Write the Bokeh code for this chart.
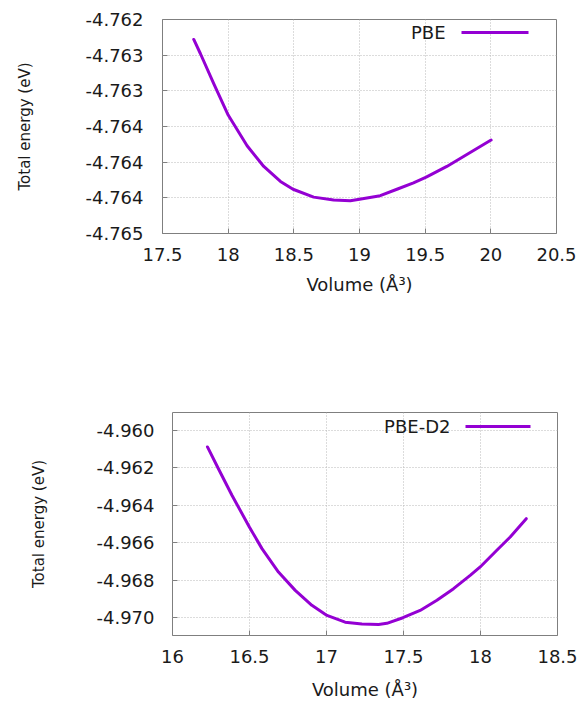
from bokeh.plotting import figure
from bokeh.layouts import column
from bokeh.models import (ColumnDataSource, FixedTicker, Label, Arrow, Range1d)
from bokeh.embed import file_html
from bokeh.resources import INLINE

# ---------------- data ----------------
pbe_volume = [17.738, 17.789, 17.890, 18.000, 18.144, 18.271, 18.398, 18.494,
              18.651, 18.803, 18.930, 19.000, 19.158, 19.285, 19.411, 19.508,
              19.665, 19.792, 20.002]
pbe_energy = [-4.76228, -4.76248, -4.76290, -4.76334, -4.76377, -4.76406,
              -4.76427, -4.76438, -4.76449, -4.76453, -4.76454, -4.76452,
              -4.76447, -4.76438, -4.76429, -4.76421, -4.76406, -4.76392,
              -4.76369]

d2_volume = [16.227, 16.299, 16.386, 16.500, 16.581, 16.688, 16.797, 16.905,
             17.003, 17.121, 17.230, 17.338, 17.392, 17.496, 17.608, 17.717,
             17.825, 17.933, 17.998, 18.106, 18.193, 18.297]
d2_energy = [-4.96088, -4.96206, -4.96346, -4.96517, -4.96631, -4.96756,
             -4.96854, -4.96934, -4.96988, -4.97024, -4.97034, -4.97036,
             -4.97030, -4.97000, -4.96961, -4.96907, -4.96845, -4.96774,
             -4.96729, -4.96640, -4.96569, -4.96471]

pbe_xticks = [17.5, 18.0, 18.5, 19.0, 19.5, 20.0, 20.5]
pbe_xlabels = ["17.5", "18", "18.5", "19", "19.5", "20", "20.5"]
pbe_yticks = [-4.7650, -4.7645, -4.7640, -4.7635, -4.7630, -4.7625, -4.7620]
pbe_ylabels = ["-4.765", "-4.764", "-4.764", "-4.764", "-4.763", "-4.763", "-4.762"]

d2_xticks = [16.0, 16.5, 17.0, 17.5, 18.0, 18.5]
d2_xlabels = ["16", "16.5", "17", "17.5", "18", "18.5"]
d2_yticks = [-4.970, -4.968, -4.966, -4.964, -4.962, -4.960]
d2_ylabels = ["-4.970", "-4.968", "-4.966", "-4.964", "-4.962", "-4.960"]

series_names = ["PBE", "PBE-D2"]

LINE_COLOR = "#9400D3"
FONT = "DejaVu Sans"
TEXT_COLOR = "#1a1a1a"
FRAME_COLOR = "#7f7f7f"


def style_axis(ax, ticks, labels):
    ax.ticker = FixedTicker(ticks=ticks)
    ax.major_label_overrides = {t: l for t, l in zip(ticks, labels)}
    ax.minor_tick_line_color = None
    ax.major_tick_in = 5
    ax.major_tick_out = 0
    ax.major_tick_line_color = FRAME_COLOR
    ax.axis_line_color = None
    ax.major_label_text_font = FONT
    ax.major_label_text_font_size = "18px"
    ax.major_label_text_color = TEXT_COLOR


def make_plot(xs, ys, name, xr, yr, xt, xl, yt, yl, height, borders,
              ystand, xlab_stand, xtick_stand, ytick_stand, legend_line, label_pos):
    top, bottom, left, right = borders
    p = figure(width=583, height=height, output_backend="svg",
               toolbar_location=None, x_range=Range1d(*xr), y_range=Range1d(*yr),
               min_border_top=top, min_border_bottom=bottom,
               min_border_left=left, min_border_right=right)
    p.frame_align = False
    p.background_fill_color = "white"
    p.border_fill_color = "white"
    p.outline_line_color = FRAME_COLOR
    p.outline_line_width = 1

    style_axis(p.xaxis[0], xt, xl)
    style_axis(p.yaxis[0], yt, yl)
    p.xaxis[0].major_label_standoff = xtick_stand
    p.yaxis[0].major_label_standoff = ytick_stand

    p.xaxis.axis_label = "Volume (Å³)"
    p.xaxis.axis_label_text_font = FONT
    p.xaxis.axis_label_text_font_size = "18px"
    p.xaxis.axis_label_text_font_style = "normal"
    p.xaxis.axis_label_text_color = TEXT_COLOR
    p.xaxis.axis_label_standoff = xlab_stand

    p.yaxis.axis_label = "Total energy (eV)"
    p.yaxis.axis_label_text_font = FONT
    p.yaxis.axis_label_text_font_size = "15px"
    p.yaxis.axis_label_text_font_style = "normal"
    p.yaxis.axis_label_text_color = TEXT_COLOR
    p.yaxis.axis_label_standoff = ystand

    for g in (p.xgrid, p.ygrid):
        g.grid_line_color = "#b8b8b8"
        g.grid_line_dash = "1 2"
        g.grid_line_width = 1
    p.xgrid.ticker = FixedTicker(ticks=xt)
    p.ygrid.ticker = FixedTicker(ticks=yt)

    src = ColumnDataSource(data=dict(x=xs, y=ys))
    p.line("x", "y", source=src, line_color=LINE_COLOR, line_width=3,
           line_join="round", line_cap="round")

    # key: label on the left, line sample on the right (gnuplot style)
    x0, x1, ly = legend_line
    p.add_layout(Arrow(x_start=x0, y_start=ly, x_end=x1, y_end=ly,
                       start_units="screen", end_units="screen",
                       start=None, end=None, line_color=LINE_COLOR, line_width=3))
    p.add_layout(Label(x=label_pos[0], y=label_pos[1], x_units="screen",
                       y_units="screen", text=name, text_align="right",
                       text_baseline="middle", text_font=FONT,
                       text_font_size="18px", text_color=TEXT_COLOR))
    return p


p1 = make_plot(pbe_volume, pbe_energy, series_names[0], (17.5, 20.5),
               (-4.765, -4.762), pbe_xticks, pbe_xlabels, pbe_yticks, pbe_ylabels,
               height=320, borders=(19, 87, 162, 27), ystand=48, xlab_stand=10,
               xtick_stand=14, ytick_stand=19, legend_line=(299, 366, 201),
               label_pos=(283, 201))
p2 = make_plot(d2_volume, d2_energy, series_names[1], (16.0, 18.5),
               (-4.97095, -4.95904), d2_xticks, d2_xlabels, d2_yticks, d2_ylabels,
               height=382, borders=(92, 67, 172, 26), ystand=45, xlab_stand=13,
               xtick_stand=14, ytick_stand=18, legend_line=(293, 358, 209),
               label_pos=(278, 209))

layout = column(p1, p2, spacing=0)
open("out.html", "w").write(file_html(layout, INLINE))
